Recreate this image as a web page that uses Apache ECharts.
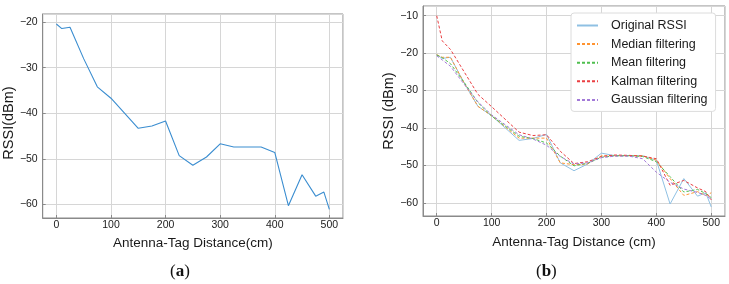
<!DOCTYPE html>
<html>
<head>
<meta charset="utf-8">
<script src="https://cdn.jsdelivr.net/npm/echarts@6/dist/echarts.min.js"></script>
<style>
  html, body { margin: 0; padding: 0; background: #fff; }
  #main { width: 729px; height: 284px; }
</style>
</head>
<body>
<div id="main"></div>
<script>
// distances (cm) shared by all curves
const distance = [0, 10, 25, 50, 75, 100, 150, 175, 200, 225, 250, 275, 300, 325, 350, 375, 400, 425, 450, 475, 490, 500];

// RSSI values (dBm)
const originalRssi = [-20.4, -21.4, -21.1, -28.0, -34.2, -36.7, -43.3, -42.8, -41.7, -49.3, -51.4, -49.6, -46.7, -47.4, -47.4, -47.4, -48.6, -60.3, -53.5, -58.2, -57.3, -61.1];
const medianRssi = [-20.4, -21.1, -21.1, -28.0, -34.2, -36.7, -42.7, -42.7, -42.7, -49.3, -49.8, -49.6, -47.4, -47.4, -47.4, -47.4, -48.6, -53.5, -58.0, -57.0, -58.0, -57.3];
const meanRssi = [-20.5, -21.2, -22.8, -27.8, -33.2, -36.8, -42.2, -42.8, -44.0, -47.5, -50.1, -49.4, -47.8, -47.4, -47.4, -47.6, -49.0, -53.0, -57.1, -56.4, -57.5, -58.6];
const kalmanRssi = [-10.0, -16.7, -19.0, -25.0, -31.0, -34.3, -41.1, -42.0, -41.8, -46.2, -49.5, -49.0, -47.6, -47.2, -47.3, -47.5, -48.2, -55.3, -54.0, -56.0, -57.0, -59.2];
const gaussianRssi = [-20.7, -21.8, -23.5, -28.3, -33.0, -36.5, -41.8, -42.9, -44.6, -47.6, -49.6, -49.3, -47.9, -47.5, -47.5, -48.2, -51.8, -54.5, -56.3, -57.2, -58.0, -59.0];

const seriesNames = ['Original RSSI', 'Median filtering', 'Mean filtering', 'Kalman filtering', 'Gaussian filtering'];

const pair = (ys) => distance.map((x, i) => [x, ys[i]]);

const chart = echarts.init(document.getElementById('main'));

const FONT = 'Liberation Sans';
const frameColor = '#8a8a8a';
const gridColor = '#d6d6d6';

function xAx(gridIndex, name, gap) {
  return {
    type: 'value', gridIndex: gridIndex,
    min: -25, max: 525, splitNumber: 5,
    name: name, nameLocation: 'middle', nameGap: gap,
    nameTextStyle: { fontFamily: FONT, fontSize: 13.5, color: '#1a1a1a' },
    axisLine: { show: true, onZero: false, lineStyle: { color: frameColor, width: 1 } },
    axisTick: { show: true, inside: true, length: 3, lineStyle: { color: frameColor } },
    axisLabel: { fontFamily: FONT, fontSize: 10.5, color: '#1a1a1a', margin: 2, showMinLabel: false, showMaxLabel: false },
    splitLine: { show: true, lineStyle: { color: gridColor, width: 1 } }
  };
}

function yAx(gridIndex, name, min, max, gap, pad) {
  return {
    type: 'value', gridIndex: gridIndex,
    min: min, max: max, splitNumber: 5,
    name: name, nameLocation: 'middle', nameGap: gap,
    nameTextStyle: { fontFamily: FONT, fontSize: 14.5, color: '#1a1a1a', padding: pad },
    axisLine: { show: true, onZero: false, lineStyle: { color: frameColor, width: 1 } },
    axisTick: { show: true, inside: true, length: 3, lineStyle: { color: frameColor } },
    axisLabel: {
      fontFamily: FONT, fontSize: 10.5, color: '#1a1a1a', margin: 5,
      showMinLabel: false, showMaxLabel: false,
      formatter: (v) => String(v).replace('-', '\u2212')
    },
    splitLine: { show: true, lineStyle: { color: gridColor, width: 1 } }
  };
}

function dashed(name, ys, color, dash) {
  return {
    name: name, type: 'line', xAxisIndex: 1, yAxisIndex: 1,
    data: pair(ys), symbol: 'none',
    lineStyle: { color: color, width: 1, type: dash },
    itemStyle: { color: color }
  };
}

const option = {
  animation: false,
  grid: [
    { left: 42, right: 386, top: 14, bottom: 66, show: true, borderColor: frameColor, borderWidth: 1 },
    { left: 423, right: 4, top: 6, bottom: 68, show: true, borderColor: frameColor, borderWidth: 1 }
  ],
  xAxis: [
    xAx(0, 'Antenna-Tag Distance(cm)', 17),
    xAx(1, 'Antenna-Tag Distance (cm)', 19)
  ],
  yAxis: [
    yAx(0, 'RSSI(dBm)', -63, -18.2, 22, [0, 14, 0, 0]),
    yAx(1, 'RSSI (dBm)', -63.5, -7.4, 26, [0, 0, 0, 0])
  ],
  legend: {
    orient: 'vertical',
    left: 571, top: 13,
    data: seriesNames,
    backgroundColor: '#fff',
    borderColor: '#dcdcdc', borderWidth: 1, borderRadius: 3,
    padding: [6, 8, 5, 5],
    itemWidth: 21, itemHeight: 12, itemGap: 5.6,
    itemStyle: { opacity: 0 },
    textStyle: { fontFamily: FONT, fontSize: 12.5, color: '#1a1a1a', padding: [0, 0, 0, 8] }
  },
  graphic: [
    {
      type: 'text', left: 170, top: 263,
      style: {
        text: '{r|(}{b|a}{r|)}',
        rich: {
          r: { fontFamily: 'Liberation Serif', fontSize: 17, fill: '#111' },
          b: { fontFamily: 'Liberation Serif', fontSize: 17, fontWeight: 'bold', fill: '#111' }
        }
      }
    },
    {
      type: 'text', left: 536, top: 263,
      style: {
        text: '{r|(}{b|b}{r|)}',
        rich: {
          r: { fontFamily: 'Liberation Serif', fontSize: 17, fill: '#111' },
          b: { fontFamily: 'Liberation Serif', fontSize: 17, fontWeight: 'bold', fill: '#111' }
        }
      }
    }
  ],
  series: [
    {
      name: 'left', type: 'line', xAxisIndex: 0, yAxisIndex: 0,
      data: pair(originalRssi), symbol: 'none',
      lineStyle: { color: '#3a8dd0', width: 1.1 }
    },
    {
      name: 'Original RSSI', type: 'line', xAxisIndex: 1, yAxisIndex: 1,
      data: pair(originalRssi), symbol: 'none',
      lineStyle: { color: '#8fc0e3', width: 1 },
      itemStyle: { color: '#8fc0e3' }
    },
    dashed('Median filtering', medianRssi, '#ff9330', [3, 2]),
    dashed('Mean filtering', meanRssi, '#4fbf4f', [3, 2]),
    dashed('Kalman filtering', kalmanRssi, '#ea3f42', [3, 2]),
    dashed('Gaussian filtering', gaussianRssi, '#a37ad8', [3, 2])
  ]
};

chart.setOption(option);
</script>
</body>
</html>
